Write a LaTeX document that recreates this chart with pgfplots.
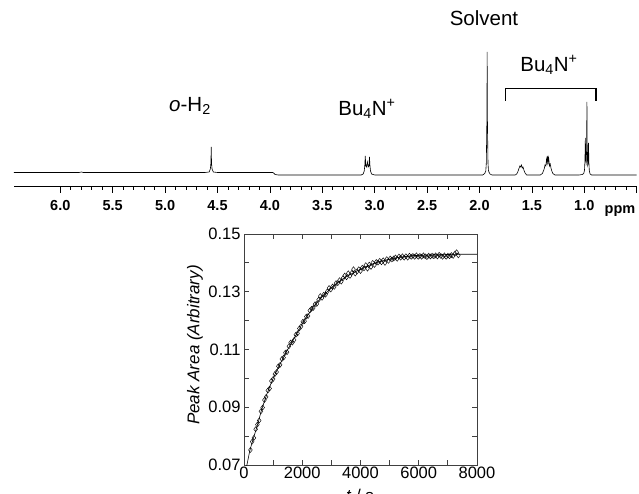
\documentclass[border=0pt]{standalone}
\usepackage{fontspec}
\setmainfont{Liberation Sans}
\usepackage{pgfplots}
\pgfplotsset{compat=1.18}
\begin{document}
\begin{tikzpicture}[x=1pt,y=1pt]
\useasboundingbox (0,0) rectangle (639,493);
% ---------------- NMR spectrum ----------------
\begin{axis}[
  at={(14pt,307pt)}, anchor=south west, scale only axis,
  width=622.7pt, height=141pt,
  xmin=0.5, xmax=6.442, ymin=-11, ymax=130,
  x dir=reverse,
  axis x line=bottom, axis y line=none,
  x axis line style={-, black, line width=0.8pt},
  xtick={0.5,1.0,1.5,2.0,2.5,3.0,3.5,4.0,4.5,5.0,5.5,6.0},
  xticklabels={{},1.0,1.5,2.0,2.5,3.0,3.5,4.0,4.5,5.0,5.5,6.0},
  minor x tick num=4,
  tick align=outside, major tick length=7pt, minor tick length=4pt,
  every tick/.style={black, line width=0.8pt},
  xticklabel style={font=\fontsize{14.5}{14.5}\selectfont\bfseries, yshift=-4pt},
  clip=false,
]
\addplot[black, line width=0.6pt] coordinates {
(0.50,0) (0.93,0) (0.945,1) (0.952,4) (0.956,12) (0.96,32) (0.964,12) (0.968,10)
(0.972,25) (0.975,73) (0.978,25) (0.982,12) (0.986,14) (0.99,37) (0.994,14) (0.998,5)
(1.005,1.5) (1.02,0.5) (1.05,0)
(1.28,0) (1.30,1.5) (1.31,4) (1.318,7) (1.325,11) (1.332,9) (1.34,17) (1.345,13)
(1.35,19) (1.355,12) (1.36,16) (1.367,9) (1.375,10) (1.383,6) (1.39,4) (1.40,1.5) (1.42,0)
(1.55,0) (1.565,2) (1.575,4.5) (1.585,8) (1.592,7) (1.60,10) (1.607,8) (1.615,9)
(1.625,6) (1.635,3) (1.645,1) (1.66,0)
(1.88,0) (1.90,1) (1.91,3) (1.915,5) (1.919,12) (1.922,36) (1.925,60) (1.927,123)
(1.929,60) (1.932,36) (1.935,12) (1.94,4) (1.95,1.5) (1.97,0)
(3.00,0) (3.03,1) (3.04,4) (3.045,9) (3.05,18) (3.055,9) (3.062,8) (3.07,13) (3.078,8)
(3.085,9) (3.09,19) (3.095,9) (3.10,4) (3.11,1) (3.13,0)
(3.92,0) (3.95,0.5) (3.97,2.5)
(4.50,2.5) (4.54,3) (4.552,6) (4.557,12) (4.56,28) (4.563,12) (4.568,6) (4.58,3) (4.62,2.5)
(5.78,2.5) (5.80,3) (5.82,2.5) (6.442,2.5)
};
\draw[black, line width=1.1pt] (axis cs:1.75,74) -- (axis cs:1.75,86.7) -- (axis cs:0.888,86.7) -- (axis cs:0.888,74);
\end{axis}
\node[font=\fontsize{14.5}{14.5}\selectfont\bfseries] at (620,281.5) {ppm};
\node[font=\fontsize{20.5}{20.5}\selectfont] at (484,475) {Solvent};
\node[font=\fontsize{20.5}{20.5}\selectfont] at (549,428) {Bu\textsubscript{4}N\textsuperscript{+}};
\node[font=\fontsize{20.5}{20.5}\selectfont] at (367,384) {Bu\textsubscript{4}N\textsuperscript{+}};
\node[font=\fontsize{20.5}{20.5}\selectfont] at (190,387) {\textit{o}-H\textsubscript{2}};
% ---------------- kinetics ----------------
\begin{axis}[
  at={(244pt,28pt)}, anchor=south west, scale only axis,
  width=233pt, height=231pt,
  xmin=0, xmax=8000, ymin=0.07, ymax=0.15,
  xtick={0,2000,4000,6000,8000}, xticklabels={0,2000,4000,6000,8000},
  minor xtick={1000,3000,5000,7000},
  ytick={0.07,0.09,0.11,0.13,0.15}, yticklabels={0.07,0.09,0.11,0.13,0.15},
  minor ytick={0.08,0.10,0.12,0.14},
  scaled ticks=false,
  tick align=inside, major tick length=5pt, minor tick length=5pt,
  axis line style={black!75, line width=0.8pt},
  every tick/.style={black!75, line width=0.8pt},
  ticklabel style={font=\fontsize{16.5}{16.5}\selectfont},
  xticklabel style={yshift=2pt},
]
\addplot[black, line width=0.6pt] coordinates {
(80,0.0692) (100,0.0700) (200,0.0750) (300,0.0785) (400,0.0818) (500,0.0852) (600,0.0890)
(700,0.0920) (800,0.0950) (900,0.0975) (1000,0.1000) (1100,0.1022) (1200,0.1042)
(1300,0.1062) (1400,0.1082) (1500,0.1100) (1600,0.1118) (1700,0.1135) (1800,0.1153)
(1900,0.1170) (2000,0.1190) (2100,0.1206) (2200,0.1220) (2300,0.1235) (2400,0.1250)
(2500,0.1262) (2600,0.1273) (2700,0.1284) (2800,0.1294) (2900,0.1304) (3000,0.1313)
(3200,0.1330) (3400,0.1345) (3600,0.1357) (3800,0.1368) (4000,0.1378) (4200,0.1388)
(4400,0.1396) (4600,0.1403) (4800,0.1408) (5000,0.1413) (5200,0.1417) (5400,0.1420)
(5600,0.1423) (5800,0.1425) (6000,0.1426) (6500,0.1428) (7000,0.1429) (7500,0.1430) (8000,0.1430)
};
\addplot[only marks, mark=diamond, mark size=2.5pt, mark options={black, line width=0.45pt}] coordinates {
(220,0.0752) (280,0.0781) (340,0.0794) (400,0.0824) (460,0.0840) (520,0.0854) (580,0.0886)
(640,0.0899) (700,0.0925) (760,0.0936) (820,0.0958) (880,0.0965) (940,0.0991) (1000,0.0998)
(1060,0.1015) (1120,0.1022) (1180,0.1042) (1240,0.1047) (1300,0.1067) (1360,0.1072)
(1420,0.1089) (1480,0.1091) (1540,0.1111) (1600,0.1124) (1660,0.1124) (1720,0.1133)
(1780,0.1151) (1840,0.1156) (1900,0.1173) (1960,0.1180) (2020,0.1196) (2080,0.1198)
(2140,0.1214) (2200,0.1216) (2260,0.1235) (2320,0.1241) (2380,0.1244) (2440,0.1257)
(2500,0.1258) (2560,0.1272) (2620,0.1285) (2680,0.1279) (2740,0.1290) (2800,0.1290)
(2860,0.1301) (2920,0.1313) (2980,0.1308) (3040,0.1318) (3100,0.1317) (3160,0.1330)
(3220,0.1330) (3280,0.1340) (3340,0.1335) (3400,0.1347) (3460,0.1356) (3520,0.1350)
(3580,0.1364) (3640,0.1355) (3700,0.1365) (3760,0.1378) (3820,0.1363) (3880,0.1370)
(3940,0.1378) (4000,0.1372) (4060,0.1383) (4120,0.1381) (4180,0.1392) (4240,0.1380)
(4300,0.1394) (4360,0.1386) (4420,0.1400) (4480,0.1393) (4540,0.1403) (4600,0.1401)
(4660,0.1407) (4720,0.1402) (4780,0.1409) (4840,0.1400) (4900,0.1413) (4960,0.1407)
(5020,0.1415) (5080,0.1412) (5140,0.1415) (5200,0.1419) (5260,0.1414) (5320,0.1422)
(5380,0.1418) (5440,0.1423) (5500,0.1418) (5560,0.1423) (5620,0.1418) (5680,0.1425)
(5740,0.1421) (5800,0.1424) (5860,0.1421) (5920,0.1426) (5980,0.1421) (6040,0.1424)
(6100,0.1421) (6160,0.1426) (6220,0.1423) (6280,0.1420) (6340,0.1425) (6400,0.1422)
(6460,0.1425) (6520,0.1423) (6580,0.1426) (6640,0.1422) (6700,0.1428) (6760,0.1424)
(6820,0.1421) (6880,0.1426) (6940,0.1421) (7000,0.1425) (7060,0.1423) (7120,0.1427)
(7180,0.1424) (7240,0.1432) (7300,0.1437) (7360,0.1426)
};
\end{axis}
\node[font=\fontsize{17}{17}\selectfont, rotate=90] at (195,148) {\textit{Peak Area (Arbitrary)}};
\node[font=\fontsize{17}{17}\selectfont, anchor=north] at (360,7.5) {\textit{t} / s};
\end{tikzpicture}
\end{document}
